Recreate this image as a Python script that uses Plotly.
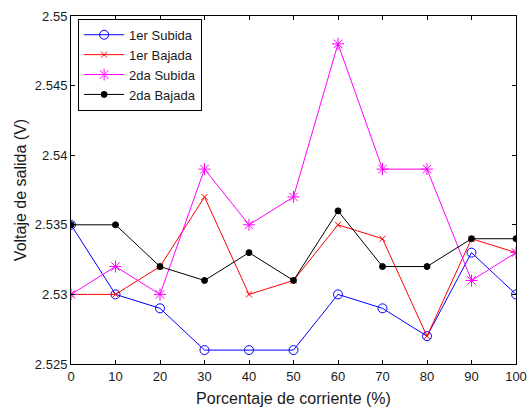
import plotly.graph_objects as go

x = [0, 10, 20, 30, 40, 50, 60, 70, 80, 90, 100]
sub1 = [2.535, 2.530, 2.529, 2.526, 2.526, 2.526, 2.530, 2.529, 2.527, 2.533, 2.530]
baj1 = [2.530, 2.530, 2.532, 2.537, 2.530, 2.531, 2.535, 2.534, 2.527, 2.534, 2.533]
sub2 = [2.530, 2.532, 2.530, 2.539, 2.535, 2.537, 2.548, 2.539, 2.539, 2.531, 2.533]
baj2 = [2.535, 2.535, 2.532, 2.531, 2.533, 2.531, 2.536, 2.532, 2.532, 2.534, 2.534]

names = ["1er Subida", "1er Bajada", "2da Subida", "2da Bajada"]
series = [sub1, baj1, sub2, baj2]
colors = ["#0000ff", "#ff0000", "#ff00ff", "#000000"]
symbols = ["circle-open", "x-thin-open", "asterisk-open", "circle"]
sizes = [9, 6, 10, 6]

FONT = "Liberation Sans, Arial"

fig = go.Figure()
for n, s, c, sym, sz in zip(names, series, colors, symbols, sizes):
    fig.add_trace(go.Scatter(
        x=x, y=s, name=n, mode="lines+markers",
        line=dict(color=c, width=1),
        marker=dict(symbol=sym, size=sz, color=c, line=dict(color=c, width=1)),
    ))

axis_common = dict(
    showgrid=False, zeroline=False, showline=True, linecolor="black", linewidth=1,
    mirror="ticks", ticks="inside", ticklen=4, tickcolor="black", automargin=False,
    tickfont=dict(family=FONT, size=13, color="#1a1a1a"),
)
fig.update_xaxes(range=[0, 100], tickvals=x, title=dict(text="Porcentaje de corriente (%)",
                 font=dict(family=FONT, size=16, color="#1a1a1a"), standoff=10),
                 **axis_common)
fig.update_yaxes(range=[2.525, 2.55], tickvals=[2.525, 2.53, 2.535, 2.54, 2.545, 2.55],
                 ticktext=["2.525", "2.53", "2.535", "2.54", "2.545", "2.55"],
                 title=dict(text="Voltaje de salida (V)",
                 font=dict(family=FONT, size=16, color="#1a1a1a"), standoff=4),
                 **axis_common)
fig.update_layout(
    width=529, height=411,
    margin=dict(l=71, r=13, t=16, b=47),
    paper_bgcolor="white", plot_bgcolor="white",
    legend=dict(x=0.016, y=0.992, xanchor="left", yanchor="top",
                bgcolor="white", bordercolor="black", borderwidth=1,
                font=dict(family=FONT, size=13, color="#1a1a1a"),
                tracegroupgap=0, itemwidth=40),
)
fig.write_html("out.html")
